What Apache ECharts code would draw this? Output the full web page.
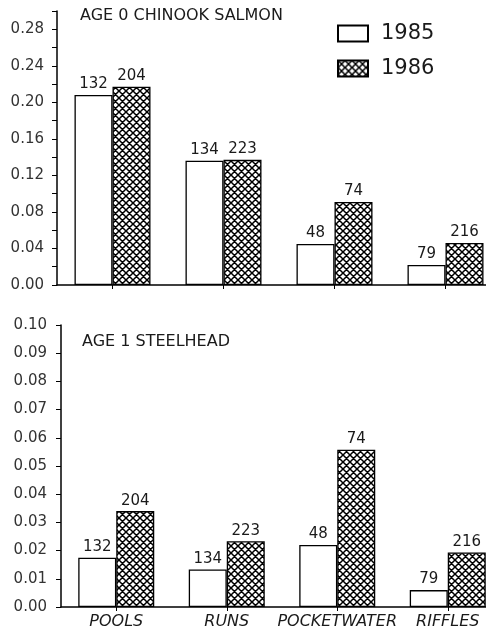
<!DOCTYPE html>
<html><head><meta charset="utf-8">
<script src="https://cdn.jsdelivr.net/npm/echarts@6/dist/echarts.min.js"></script>
<style>html,body{margin:0;padding:0;background:#fff}#c{width:486px;height:636px}</style>
</head><body><div id="c"></div>
<script>
const categories = ['POOLS', 'RUNS', 'POCKETWATER', 'RIFFLES'];
const chinook1985 = [0.208, 0.136, 0.045, 0.022];
const chinook1986 = [0.217, 0.137, 0.091, 0.046];
const steelhead1985 = [0.0175, 0.0133, 0.0220, 0.0060];
const steelhead1986 = [0.0340, 0.0233, 0.0558, 0.0193];
const n1985 = [132, 134, 48, 79];
const n1986 = [204, 223, 74, 216];
const titleTop = 'AGE 0 CHINOOK SALMON';
const titleBottom = 'AGE 1 STEELHEAD';

const FONT = 'DejaVu Sans';
const INK = '#1a1a1a';

// cross-hatch pattern
const S = 7;
const pc = document.createElement('canvas');
pc.width = S; pc.height = S;
const g = pc.getContext('2d');
g.fillStyle = '#fff'; g.fillRect(0, 0, S, S);
g.strokeStyle = '#000'; g.lineWidth = 1.5;
g.beginPath();
for (const o of [-S, 0, S]) {
  g.moveTo(o, 0); g.lineTo(o + S, S);
  g.moveTo(o + S, 0); g.lineTo(o, S);
}
g.stroke();
const hatch = { image: pc, repeat: 'repeat' };

const chart = echarts.init(document.getElementById('c'), null, { renderer: 'canvas' });

function xAxis(gi, showLabels) {
  return {
    type: 'category', gridIndex: gi, data: categories,
    axisLine: { show: true, lineStyle: { color: '#000', width: 1.5 } },
    axisTick: { show: true, alignWithLabel: true, length: 4, lineStyle: { color: '#000' } },
    axisLabel: { show: showLabels, interval: 0, hideOverlap: false, fontFamily: FONT, fontSize: 16, fontStyle: 'italic', color: INK, margin: 7 },
    splitLine: { show: false }
  };
}
function yAxis(gi, max, interval, fmt, margin) {
  return {
    type: 'value', gridIndex: gi, min: 0, max: max, interval: interval,
    axisLine: { show: true, lineStyle: { color: '#000', width: 1.5 } },
    axisTick: { show: true, length: 5, lineStyle: { color: '#000' } },
    splitLine: { show: false },
    axisLabel: { formatter: fmt, fontFamily: FONT, fontSize: 15, color: '#333', margin: margin }
  };
}
function barSeries(name, xi, data, counts, fill) {
  return {
    name: name, type: 'bar', xAxisIndex: xi, yAxisIndex: xi, data: data,
    barWidth: 38, barGap: '0%',
    itemStyle: { color: fill, borderColor: '#000', borderWidth: 1.3 },
    label: {
      show: true, position: 'top', distance: 3,
      formatter: p => String(counts[p.dataIndex]),
      fontFamily: FONT, fontSize: 15, color: INK
    }
  };
}

chart.setOption({
  animation: false,
  backgroundColor: '#fff',
  title: [
    { text: titleTop, left: 75, top: 3, textStyle: { fontFamily: FONT, fontSize: 16, fontWeight: 'normal', color: INK } },
    { text: titleBottom, left: 77, top: 329, textStyle: { fontFamily: FONT, fontSize: 16, fontWeight: 'normal', color: INK } }
  ],
  legend: {
    orient: 'vertical', left: 337, top: 23, padding: 0,
    itemWidth: 30, itemHeight: 16, itemGap: 14,
    icon: 'rect',
    data: ['1985', '1986'],
    textStyle: { fontFamily: FONT, fontSize: 21, color: INK, padding: [0, 0, 0, 8] }
  },
  grid: [
    { left: 57, top: 11, width: 444, height: 274, outerBoundsMode: 'none', containLabel: false },
    { left: 61, top: 325, width: 442, height: 282, outerBoundsMode: 'none', containLabel: false }
  ],
  xAxis: [xAxis(0, false), xAxis(1, true)],
  yAxis: [
    yAxis(0, 0.30, 0.02, v => (Math.round(v * 100) % 4 === 0 && v < 0.29) ? v.toFixed(2) : '', 13),
    yAxis(1, 0.10, 0.01, v => v.toFixed(2), 14)
  ],
  series: [
    barSeries('1985', 0, chinook1985, n1985, '#fff'),
    barSeries('1986', 0, chinook1986, n1986, hatch),
    barSeries('1985', 1, steelhead1985, n1985, '#fff'),
    barSeries('1986', 1, steelhead1986, n1986, hatch)
  ]
});
</script>
</body></html>
